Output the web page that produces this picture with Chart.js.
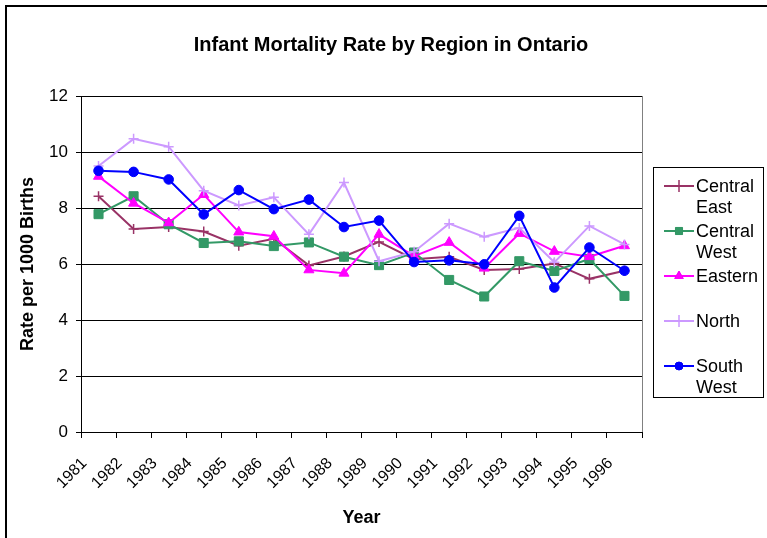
<!DOCTYPE html>
<html>
<head>
<meta charset="utf-8">
<script src="https://cdn.jsdelivr.net/npm/chart.js@4.4.1/dist/chart.umd.min.js"></script>
<style>
  html, body { margin: 0; padding: 0; background: #fff; }
  #wrap { width: 767px; height: 538px; }
</style>
</head>
<body>
<div id="wrap"><canvas id="mortalityChart" width="767" height="538"></canvas></div>
<script>
var years = ['1981', '1982', '1983', '1984', '1985', '1986', '1987', '1988',
             '1989', '1990', '1991', '1992', '1993', '1994', '1995', '1996'];
var yTicks = [0, 2, 4, 6, 8, 10, 12];

var centralEast = [8.42, 7.25, 7.32, 7.16, 6.65, 6.90, 5.95, 6.27, 6.79, 6.17, 6.26, 5.79, 5.82, 6.02, 5.47, 5.76];
var centralWest = [7.78, 8.42, 7.42, 6.75, 6.81, 6.64, 6.77, 6.26, 5.96, 6.41, 5.43, 4.84, 6.10, 5.75, 6.18, 4.86];
var eastern     = [9.13, 8.17, 7.47, 8.48, 7.14, 6.99, 5.79, 5.67, 7.06, 6.28, 6.77, 5.85, 7.09, 6.45, 6.26, 6.65];
var north       = [9.50, 10.47, 10.19, 8.62, 8.09, 8.38, 7.06, 8.91, 6.10, 6.44, 7.44, 6.97, 7.29, 6.06, 7.36, 6.70];
var southWest   = [9.33, 9.29, 9.02, 7.77, 8.64, 7.96, 8.30, 7.32, 7.55, 6.07, 6.13, 5.99, 7.72, 5.16, 6.59, 5.76];

var legendNames = [['Central', 'East'], ['Central', 'West'], ['Eastern'], ['North'], ['South', 'West']];

var FONT = "'Liberation Sans', Arial, sans-serif";

function series(label, data, color, style, radius, legendRadius, order) {
    return {
        label: label,
        data: data,
        borderColor: color,
        backgroundColor: color,
        borderWidth: 2,
        pointStyle: style,
        pointRadius: radius,
        pointHoverRadius: radius,
        pointBorderWidth: style === 'cross' ? 1.5 : 1,
        legendRadius: legendRadius,
        tension: 0,
        order: order
    };
}

// frame, title, plot border and the boxed legend on the right
var decorations = {
    id: 'decorations',
    afterDraw: function (chart) {
        var ctx = chart.ctx;
        var area = chart.chartArea;
        ctx.save();

        ctx.strokeStyle = '#000';
        ctx.lineWidth = 2;
        ctx.strokeRect(6, 6, 780, 560);

        ctx.lineWidth = 1;
        ctx.strokeStyle = '#808080';
        ctx.beginPath();
        ctx.moveTo(Math.round(area.right) + 0.5, area.top);
        ctx.lineTo(Math.round(area.right) + 0.5, area.bottom);
        ctx.stroke();

        ctx.fillStyle = '#000';
        ctx.font = 'bold 20px ' + FONT;
        ctx.textAlign = 'center';
        ctx.textBaseline = 'middle';
        ctx.fillText('Infant Mortality Rate by Region in Ontario', 391, 45);

        // legend
        ctx.strokeStyle = '#000';
        ctx.lineWidth = 1;
        ctx.strokeRect(653.5, 167.5, 110, 230);
        ctx.font = '18px ' + FONT;
        ctx.textAlign = 'left';
        chart.data.datasets.forEach(function (ds, i) {
            var y = 186 + i * 45;
            ctx.strokeStyle = ds.borderColor;
            ctx.lineWidth = 2;
            ctx.beginPath();
            ctx.moveTo(664, y);
            ctx.lineTo(694, y);
            ctx.stroke();
            ctx.lineWidth = ds.pointBorderWidth;
            Chart.helpers.drawPoint(ctx, {
                pointStyle: ds.pointStyle,
                radius: ds.legendRadius,
                borderWidth: ds.pointBorderWidth,
                rotation: 0
            }, 679, y);
            ctx.fillStyle = ds.borderColor;
            if (ds.pointStyle !== 'cross') ctx.fill();
            ctx.fillStyle = '#000';
            legendNames[i].forEach(function (line, k) {
                ctx.fillText(line, 696, y + 1 + k * 21);
            });
        });
        ctx.restore();
    }
};

new Chart(document.getElementById('mortalityChart').getContext('2d'), {
    type: 'line',
    data: {
        labels: years,
        datasets: [
            series('Central East', centralEast, '#993366', 'cross', 5, 6, 5),
            series('Central West', centralWest, '#339966', 'rect', 6.4, 5, 4),
            series('Eastern', eastern, '#FF00FF', 'triangle', 5.8, 5, 3),
            series('North', north, '#CC99FF', 'cross', 5, 6, 2),
            series('South West', southWest, '#0000FF', 'circle', 4.8, 4, 1)
        ]
    },
    options: {
        responsive: false,
        animation: false,
        devicePixelRatio: 1,
        layout: { padding: { left: 0, top: 96, right: 125, bottom: 0 } },
        plugins: {
            legend: { display: false },
            title: { display: false },
            tooltip: { enabled: false }
        },
        scales: {
            x: {
                offset: true,
                grid: { display: true, drawOnChartArea: false, offset: true, color: '#000', tickLength: 6 },
                border: { display: true, color: '#000', width: 1 },
                ticks: {
                    color: '#000',
                    font: { family: FONT, size: 16 },
                    minRotation: 45,
                    maxRotation: 45,
                    labelOffset: -14,
                    padding: 16
                },
                title: {
                    display: true,
                    text: 'Year',
                    color: '#000',
                    font: { family: FONT, size: 18, weight: 'bold' },
                    padding: { top: 0, bottom: 9 }
                },
                afterFit: function (scale) { scale.height = 106; }
            },
            y: {
                min: 0,
                max: 12,
                afterBuildTicks: function (scale) {
                    scale.ticks = yTicks.map(function (v) { return { value: v }; });
                },
                grid: { color: '#000', lineWidth: 1, tickLength: 5 },
                border: { display: true, color: '#000', width: 1 },
                ticks: {
                    color: '#000',
                    font: { family: FONT, size: 17 },
                    padding: 8
                },
                title: {
                    display: true,
                    text: 'Rate per 1000 Births',
                    color: '#000',
                    font: { family: FONT, size: 18, weight: 'bold' },
                    padding: { top: 17, bottom: 0 }
                },
                afterFit: function (scale) { scale.width = 81; }
            }
        }
    },
    plugins: [decorations]
});
</script>
</body>
</html>
